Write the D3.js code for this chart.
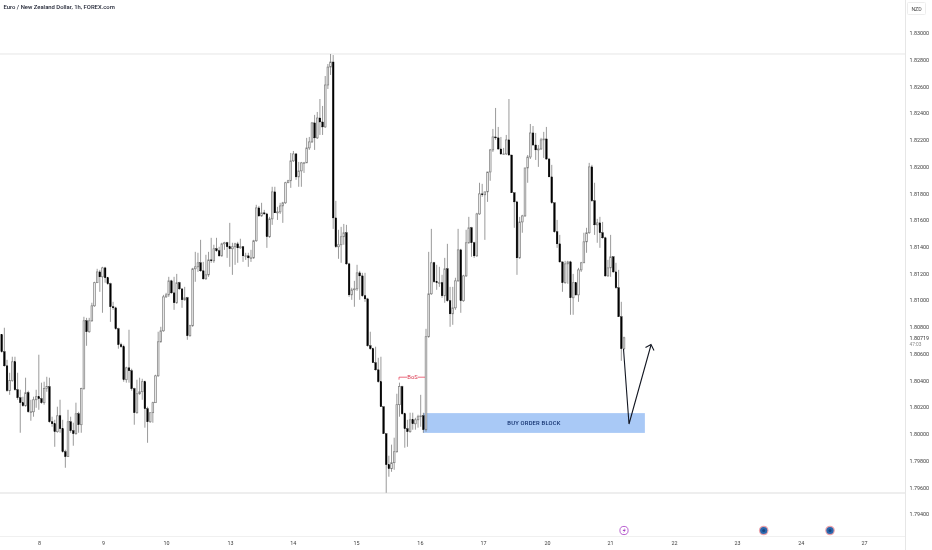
<!DOCTYPE html>
<html>
<head>
<meta charset="utf-8">
<script src="https://cdn.jsdelivr.net/npm/d3@7/dist/d3.min.js"></script>
<style>
html,body{margin:0;padding:0;background:#fff;overflow:hidden}
svg{display:block}
text{font-family:Roboto,"Liberation Sans",sans-serif}
</style>
</head>
<body>
<svg id="c" width="932" height="550"></svg>
<script>
const title = "Euro / New Zealand Dollar, 1h, FOREX.com";
const priceTicks = [1.83,1.828,1.826,1.824,1.822,1.82,1.818,1.816,1.814,1.812,1.81,1.808,1.806,1.804,1.802,1.8,1.798,1.796,1.794];
const dayLabels = ["8","9","10","13","14","15","16","17","20","21","22","23","24","27"];
const dayIndex = [14.07,38.2,62,86.1,109.8,133.6,157.7,181.3,205.2,228.8,252.7,276.2,300.1,323.7];
const opens = [1.80742,1.80614,1.80509,1.80323,1.80398,1.80539,1.80330,1.80270,1.80233,1.80210,1.80308,1.80165,1.80165,1.80255,1.80278,1.80263,1.80233,1.80338,1.80353,1.80090,1.80075,1.80016,1.80135,1.80038,1.79866,1.79829,1.80090,1.80024,1.80001,1.80150,1.80068,1.80338,1.80846,1.80764,1.80846,1.80958,1.81131,1.81212,1.81175,1.81242,1.81168,1.81123,1.80951,1.80943,1.80786,1.80667,1.80652,1.80405,1.80494,1.80472,1.80338,1.80158,1.80300,1.80315,1.80390,1.80188,1.80090,1.80158,1.80233,1.80434,1.80689,1.80771,1.81025,1.81040,1.81145,1.81055,1.80981,1.81131,1.81085,1.81003,1.81018,1.80734,1.80809,1.81235,1.81250,1.81280,1.81220,1.81160,1.81190,1.81302,1.81295,1.81385,1.81370,1.81332,1.81422,1.81430,1.81400,1.81385,1.81400,1.81422,1.81392,1.81400,1.81332,1.81332,1.81317,1.81317,1.81445,1.81691,1.81631,1.81654,1.81646,1.81475,1.81609,1.81811,1.81654,1.81661,1.81706,1.81729,1.81879,1.81894,1.82043,1.82095,1.81923,1.81968,1.82028,1.82028,1.82140,1.82185,1.82327,1.82215,1.82364,1.82334,1.82297,1.82611,1.82745,1.82783,1.81616,1.81400,1.81415,1.81475,1.81505,1.81272,1.81040,1.81078,1.81085,1.81205,1.81182,1.81033,1.81010,1.80659,1.80637,1.80532,1.80479,1.80390,1.80203,1.80001,1.79769,1.79739,1.79784,1.79866,1.80218,1.80353,1.80150,1.80038,1.80016,1.80105,1.80075,1.80105,1.80128,1.80135,1.80031,1.80727,1.81048,1.81280,1.81138,1.81131,1.81131,1.81033,1.81235,1.80996,1.80898,1.80943,1.81145,1.81377,1.80996,1.81182,1.81430,1.81542,1.81430,1.81332,1.81646,1.81796,1.81789,1.81811,1.81960,1.82125,1.82222,1.82215,1.82132,1.82095,1.82095,1.82200,1.82087,1.81804,1.81736,1.81317,1.81586,1.81631,1.81990,1.82072,1.82252,1.82162,1.82125,1.82132,1.82200,1.82207,1.82057,1.81923,1.81729,1.81512,1.81422,1.81287,1.81131,1.81272,1.81287,1.81018,1.81131,1.81040,1.81227,1.81280,1.81437,1.81505,1.81998,1.81744,1.81564,1.81579,1.81505,1.81467,1.81182,1.81242,1.81325,1.81212,1.81093,1.80876,1.80637];
const closes = [1.80614,1.80509,1.80323,1.80398,1.80539,1.80330,1.80270,1.80233,1.80210,1.80308,1.80165,1.80165,1.80255,1.80278,1.80263,1.80233,1.80338,1.80353,1.80090,1.80075,1.80016,1.80135,1.80038,1.79866,1.79829,1.80090,1.80024,1.80001,1.80150,1.80068,1.80338,1.80846,1.80764,1.80846,1.80958,1.81131,1.81212,1.81175,1.81242,1.81168,1.81123,1.80951,1.80943,1.80786,1.80667,1.80652,1.80405,1.80494,1.80472,1.80338,1.80158,1.80300,1.80315,1.80390,1.80188,1.80090,1.80158,1.80233,1.80434,1.80689,1.80771,1.81025,1.81040,1.81145,1.81055,1.80981,1.81131,1.81085,1.81003,1.81018,1.80734,1.80809,1.81235,1.81250,1.81280,1.81220,1.81160,1.81190,1.81302,1.81295,1.81385,1.81370,1.81332,1.81422,1.81430,1.81400,1.81385,1.81400,1.81422,1.81392,1.81400,1.81332,1.81332,1.81317,1.81317,1.81445,1.81691,1.81631,1.81654,1.81646,1.81475,1.81609,1.81811,1.81654,1.81661,1.81706,1.81729,1.81879,1.81894,1.82043,1.82095,1.81923,1.81968,1.82028,1.82028,1.82140,1.82185,1.82327,1.82215,1.82364,1.82334,1.82297,1.82611,1.82745,1.82783,1.81616,1.81400,1.81415,1.81475,1.81505,1.81272,1.81040,1.81078,1.81085,1.81205,1.81182,1.81033,1.81010,1.80659,1.80637,1.80532,1.80479,1.80390,1.80203,1.80001,1.79769,1.79739,1.79784,1.79866,1.80218,1.80353,1.80150,1.80038,1.80016,1.80105,1.80075,1.80105,1.80128,1.80135,1.80031,1.80727,1.81048,1.81280,1.81138,1.81131,1.81131,1.81033,1.81235,1.80996,1.80898,1.80943,1.81145,1.81377,1.80996,1.81182,1.81430,1.81542,1.81430,1.81332,1.81646,1.81796,1.81789,1.81811,1.81960,1.82125,1.82222,1.82215,1.82132,1.82095,1.82095,1.82200,1.82087,1.81804,1.81736,1.81317,1.81586,1.81631,1.81990,1.82072,1.82252,1.82162,1.82125,1.82132,1.82200,1.82207,1.82057,1.81923,1.81729,1.81512,1.81422,1.81287,1.81131,1.81272,1.81287,1.81018,1.81131,1.81040,1.81227,1.81280,1.81437,1.81505,1.81998,1.81744,1.81564,1.81579,1.81505,1.81467,1.81182,1.81242,1.81325,1.81212,1.81093,1.80876,1.80637,1.80719];
const highs = [1.80742,1.80794,1.80554,1.80457,1.80577,1.80577,1.80457,1.80330,1.80278,1.80420,1.80323,1.80255,1.80278,1.80330,1.80592,1.80383,1.80390,1.80427,1.80420,1.80128,1.80105,1.80203,1.80255,1.80105,1.79881,1.80180,1.80128,1.80083,1.80233,1.80165,1.80345,1.80876,1.80868,1.80868,1.80981,1.81138,1.81235,1.81227,1.81250,1.81250,1.81175,1.81131,1.80988,1.80951,1.80794,1.80682,1.80667,1.80502,1.80779,1.80487,1.80345,1.80405,1.80420,1.80412,1.80398,1.80203,1.80158,1.80240,1.80442,1.80764,1.80801,1.81040,1.81055,1.81175,1.81153,1.81175,1.81197,1.81138,1.81085,1.81100,1.81025,1.80816,1.81242,1.81362,1.81355,1.81452,1.81287,1.81340,1.81362,1.81467,1.81415,1.81467,1.81400,1.81430,1.81437,1.81437,1.81579,1.81430,1.81430,1.81437,1.81460,1.81400,1.81355,1.81355,1.81377,1.81452,1.81714,1.81706,1.81729,1.81676,1.81654,1.81624,1.81849,1.81849,1.81699,1.81729,1.81736,1.81886,1.81901,1.82102,1.82117,1.82102,1.82035,1.82035,1.82035,1.82215,1.82222,1.82334,1.82387,1.82409,1.82506,1.82454,1.82678,1.82768,1.82843,1.82835,1.81744,1.81527,1.81549,1.81571,1.81564,1.81280,1.81093,1.81145,1.81265,1.81220,1.81205,1.81205,1.81018,1.80764,1.80644,1.80652,1.80569,1.80577,1.80203,1.80001,1.79836,1.79919,1.79971,1.80300,1.80383,1.80360,1.80158,1.80105,1.80158,1.80158,1.80120,1.80143,1.80292,1.80158,1.80786,1.81362,1.81534,1.81287,1.81265,1.81250,1.81190,1.81317,1.81422,1.81100,1.81100,1.81168,1.81534,1.81385,1.81190,1.81527,1.81624,1.81549,1.81437,1.81654,1.81879,1.81871,1.81811,1.81960,1.82132,1.82282,1.82439,1.82297,1.82222,1.82140,1.82237,1.82506,1.82087,1.81804,1.81744,1.81624,1.81639,1.81990,1.82087,1.82319,1.82304,1.82252,1.82162,1.82215,1.82260,1.82297,1.82065,1.82013,1.81721,1.81601,1.81489,1.81287,1.81295,1.81295,1.81295,1.81197,1.81131,1.81242,1.81287,1.81505,1.81542,1.82028,1.82013,1.81879,1.81609,1.81624,1.81586,1.81475,1.81302,1.81489,1.81325,1.81280,1.81227,1.80988,1.80727];
const lows = [1.80607,1.80502,1.80315,1.80292,1.80390,1.80323,1.80255,1.80008,1.80203,1.80203,1.80158,1.80098,1.80128,1.80195,1.80180,1.80225,1.80218,1.80315,1.80083,1.80053,1.79903,1.80008,1.80008,1.79859,1.79746,1.79829,1.80008,1.79911,1.79993,1.80008,1.80008,1.80330,1.80659,1.80756,1.80838,1.80951,1.81131,1.81063,1.80906,1.81131,1.81115,1.80838,1.80928,1.80779,1.80637,1.80644,1.80390,1.80383,1.80383,1.80323,1.80068,1.80150,1.80292,1.80255,1.80046,1.79933,1.80083,1.80083,1.80233,1.80427,1.80682,1.80764,1.81018,1.81025,1.81048,1.80928,1.80973,1.81078,1.80943,1.80996,1.80704,1.80727,1.80801,1.81138,1.81212,1.81212,1.81153,1.81153,1.81175,1.81280,1.81280,1.81362,1.81325,1.81325,1.81377,1.81317,1.81250,1.81190,1.81265,1.81280,1.81385,1.81287,1.81302,1.81250,1.81287,1.81310,1.81437,1.81624,1.81624,1.81639,1.81392,1.81467,1.81564,1.81654,1.81601,1.81646,1.81579,1.81721,1.81879,1.81841,1.82035,1.81901,1.81849,1.81849,1.81953,1.82087,1.82125,1.82177,1.82125,1.82207,1.82237,1.82237,1.82290,1.82581,1.82686,1.81534,1.81392,1.81310,1.81280,1.81415,1.81265,1.81025,1.81003,1.80951,1.81070,1.81003,1.81025,1.80988,1.80652,1.80629,1.80532,1.80472,1.80383,1.80203,1.80001,1.79559,1.79679,1.79716,1.79731,1.79859,1.80128,1.80143,1.79896,1.79903,1.80008,1.80031,1.80031,1.80046,1.80053,1.80008,1.80016,1.80719,1.81040,1.81131,1.81078,1.81100,1.81018,1.80981,1.80988,1.80801,1.80816,1.80928,1.81138,1.80906,1.80988,1.81175,1.81422,1.81325,1.81317,1.81325,1.81639,1.81774,1.81452,1.81736,1.81894,1.82110,1.82200,1.82125,1.82087,1.82087,1.82087,1.82080,1.81804,1.81542,1.81190,1.81310,1.81505,1.81624,1.81879,1.82057,1.82155,1.82050,1.81998,1.82125,1.82065,1.82050,1.81923,1.81721,1.81505,1.81392,1.81280,1.81063,1.81123,1.81123,1.80891,1.80891,1.81033,1.80988,1.81212,1.81280,1.81355,1.81497,1.81736,1.81489,1.81430,1.81392,1.81460,1.81175,1.81175,1.81175,1.81205,1.81085,1.80876,1.80547,1.80629];

const xScale = d3.scaleLinear().domain([0,160,234]).range([1.7,426,624]);
const yScale = d3.scaleLinear().domain([1.794, 1.83]).range([514, 33]);
const svg = d3.select("#c");
const root = svg.append("g").style("filter", "blur(0.4px)");

// frame lines
const lineC = "#e6e6e6";
root.append("line").attr("x1",0).attr("x2",905).attr("y1",yScale(1.82843)).attr("y2",yScale(1.82843)).attr("stroke",lineC).attr("stroke-width",1);
root.append("line").attr("x1",0).attr("x2",905).attr("y1",493).attr("y2",493).attr("stroke","#dedede").attr("stroke-width",1.2);
root.append("line").attr("x1",0).attr("x2",905).attr("y1",536.5).attr("y2",536.5).attr("stroke","#f0f0f0").attr("stroke-width",1);
root.append("line").attr("x1",905.5).attr("x2",905.5).attr("y1",0).attr("y2",550).attr("stroke",lineC).attr("stroke-width",1);

// order block
const obTop = 1.80155, obBottom = 1.80007;
const obX0 = 158.9, obX1 = 241.8;
root.append("rect").attr("x",xScale(obX0)).attr("width",xScale(obX1)-xScale(obX0))
  .attr("y",yScale(obTop)).attr("height",yScale(obBottom)-yScale(obTop)).attr("fill","#a9c9f6");
root.append("text").attr("x",534).attr("y",yScale(1.8008)+2).attr("text-anchor","middle")
  .attr("font-size",5.8).attr("font-weight",500).attr("letter-spacing",0.2).attr("fill","#12306e").text("BUY ORDER BLOCK");

// candles
const candles = closes.map((c,i)=>({i,o:opens[i],h:highs[i],l:lows[i],c}));
const bw = 1.7;
const g = root.append("g");
g.selectAll("line.w").data(candles).join("line").attr("class","w")
  .attr("x1",d=>xScale(d.i)).attr("x2",d=>xScale(d.i))
  .attr("y1",d=>yScale(Math.max(d.h,d.o,d.c))).attr("y2",d=>yScale(Math.min(d.l,d.o,d.c)))
  .attr("stroke","#808080").attr("stroke-width",0.8);
g.selectAll("rect.b").data(candles).join("rect").attr("class","b")
  .attr("x",d=>xScale(d.i)-bw/2).attr("width",bw)
  .attr("y",d=>yScale(Math.max(d.o,d.c)))
  .attr("height",d=>Math.max(0.6,Math.abs(yScale(d.o)-yScale(d.c))))
  .attr("fill",d=>d.c>=d.o?"#e8e8e8":"#000")
  .attr("stroke",d=>d.c>=d.o?"#7a7a7a":"#000").attr("stroke-width",d=>d.c>=d.o?0.65:0.35);

// BoS annotation
const bosY = 377.2;
root.append("path").attr("d",`M399,${bosY+2.5}V${bosY}H407M418,${bosY}H425`).attr("fill","none").attr("stroke","#e8485f").attr("stroke-width",0.8);
root.append("text").attr("x",412.5).attr("y",bosY+2).attr("text-anchor","middle").attr("font-size",5.8).attr("fill","#d8324a").text("BoS");

// drawn arrow
const arrowColor = "#131722";
root.append("path").attr("d",d3.line()([[623.5,349],[629,424],[651,345]])).attr("fill","none").attr("stroke",arrowColor).attr("stroke-width",1.1);
root.append("path").attr("d",d3.line()([[645.5,347.5],[651,344.5],[654,350.5]])).attr("fill","none").attr("stroke",arrowColor).attr("stroke-width",1.1);

// axes
const yAxis = d3.axisRight(yScale).tickValues(priceTicks).tickSize(0).tickPadding(0).tickFormat(d3.format(".5f"));
const ya = root.append("g").attr("transform","translate(909.5,0)").call(yAxis);
ya.select(".domain").remove();
ya.selectAll("text").attr("font-size",5.4).attr("fill","#3c3c3c").style("font-family","Roboto,sans-serif");

const xAxis = d3.axisBottom(xScale).tickValues(dayIndex).tickSize(0).tickPadding(0).tickFormat((d,i)=>dayLabels[i]);
const xa = root.append("g").attr("transform","translate(0,541)").call(xAxis);
xa.select(".domain").remove();
xa.selectAll("text").attr("font-size",5.4).attr("fill","#3c3c3c").style("font-family","Roboto,sans-serif");

// last price label
const lastY = yScale(closes[closes.length-1]);
root.append("rect").attr("x",906).attr("y",lastY-5).attr("width",26).attr("height",13).attr("fill","#fff");
root.append("text").attr("x",909.5).attr("y",lastY+2.4).attr("font-size",5.4).attr("fill","#333").text(d3.format(".5f")(closes[closes.length-1]));
root.append("text").attr("x",909.5).attr("y",lastY+8.6).attr("font-size",4.8).attr("fill","#888").text("47:03");

// currency box
root.append("rect").attr("x",907.5).attr("y",2.5).attr("width",18).attr("height",12).attr("rx",1).attr("fill","#fff").attr("stroke","#ededed").attr("stroke-width",1);
root.append("text").attr("x",916.5).attr("y",10.5).attr("text-anchor","middle").attr("font-size",5.2).attr("fill","#4a4a4a").text("NZD");

// title
root.append("text").attr("x",3.5).attr("y",8.5).attr("font-size",5.9).attr("font-weight",500).attr("fill","#1c2030").text(title);

// event markers
const evY = 530.5;
const ev = root.append("g");
ev.append("circle").attr("cx",624).attr("cy",evY).attr("r",4.1).attr("fill","#fff").attr("stroke","#a83cc4").attr("stroke-width",0.8);
ev.append("path").attr("d",`M625.3,${evY-2.8}L622.5,${evY+0.5}H624.3L623.1,${evY+2.8}L626,${evY-0.7}H624.2Z`).attr("fill","#a83cc4");
[763.7,830].forEach(cx=>{
  ev.append("circle").attr("cx",cx).attr("cy",evY).attr("r",4.8).attr("fill","#e9a2ac");
  ev.append("circle").attr("cx",cx).attr("cy",evY).attr("r",3.6).attr("fill","#2a68ae");
  ev.append("circle").attr("cx",cx).attr("cy",evY).attr("r",1.5).attr("fill","#1a4480");
});
</script>
</body>
</html>
